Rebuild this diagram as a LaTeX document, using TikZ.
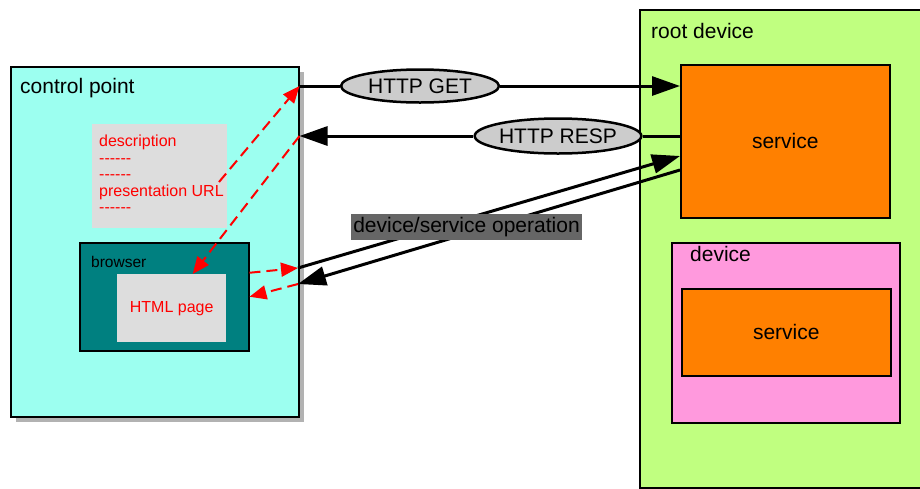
\documentclass[tikz,border=0pt]{standalone}
\usepackage{fontspec}
\setmainfont{Liberation Sans}
\usetikzlibrary{arrows.meta,shapes.geometric,shadows}
\definecolor{cpfill}{HTML}{9CFFF0}
\definecolor{rdfill}{HTML}{C0FF80}
\definecolor{devfill}{HTML}{FF99DD}
\definecolor{svcfill}{HTML}{FF8000}
\definecolor{brfill}{HTML}{008080}
\definecolor{pagefill}{HTML}{DDDDDD}
\definecolor{ellfill}{HTML}{CCCCCC}
\definecolor{labfill}{HTML}{666666}
\definecolor{redline}{HTML}{FF0000}
\newcommand{\hyph}{-{}-{}-{}-{}-{}-}
\begin{document}
\begin{tikzpicture}[x=1pt,y=-1pt,
  box/.style={draw=black,line width=1.5pt,anchor=north west,inner sep=0pt},
  paper/.style={fill=pagefill,anchor=north west,inner sep=0pt},
  bigtxt/.style={font=\fontsize{21}{25}\selectfont,inner sep=0pt},
  redtxt/.style={font=\fontsize{16}{16.5}\selectfont,text=redline,inner sep=0pt},
  msg/.style={ellipse,draw=black,line width=2.5pt,fill=ellfill,inner sep=0pt,
    font=\fontsize{21}{25}\selectfont},
  blk/.style={line width=3pt,draw=black},
  blkarrow/.style={blk,-{Triangle[length=28pt,width=19pt]}},
  redarrow/.style={draw=redline,line width=2pt,dash pattern=on 11pt off 6pt,
    -{Triangle[length=17pt,width=14pt]}}]
\useasboundingbox (0,0) rectangle (920,488);
\clip (0,0) rectangle (920,488);
% control point
\node[box,fill=cpfill,minimum width=288pt,minimum height=350pt,
  drop shadow={shadow xshift=5pt,shadow yshift=-5pt,fill=black!30,opacity=1}]
  (cp) at (10,66) {};
\node[bigtxt,anchor=west] (cptxt) at (20,88) {control point};
\node[paper,minimum width=135pt,minimum height=104pt] (desc) at (92,124) {};
\node[redtxt,anchor=west,align=left] (desctxt) at (99,174)
  {description\\\hyph\\\hyph\\presentation URL\\\hyph};
\node[box,fill=brfill,minimum width=169pt,minimum height=108pt] (browser) at (79,242) {};
\node[anchor=west,inner sep=0pt,font=\fontsize{15.5}{18}\selectfont] (brtxt) at (91,262) {browser};
\node[paper,minimum width=109pt,minimum height=68pt] (html) at (117,274) {};
\node[redtxt] (htmltxt) at (html.center) {HTML page};
% root device
\node[box,fill=rdfill,minimum width=284pt,minimum height=478pt] (rd) at (639,9) {};
\node[bigtxt,anchor=west] (rdtxt) at (651,31) {root device};
\node[box,fill=svcfill,minimum width=209pt,minimum height=153pt] (svc1) at (680,64) {};
\node[bigtxt] (svc1txt) at (svc1.center) {service};
\node[box,fill=devfill,minimum width=228pt,minimum height=180pt] (dev) at (671,242) {};
\node[bigtxt,anchor=west] (devtxt) at (690,254) {device};
\node[box,fill=svcfill,minimum width=209pt,minimum height=87pt] (svc2) at (681,288) {};
\node[bigtxt] (svc2txt) at (svc2.center) {service};
% message ellipses
\node[msg,minimum width=158pt,minimum height=33pt] (get) at (420,86) {HTTP GET};
\node[msg,minimum width=156pt,minimum height=35pt] (resp) at (558,136) {HTTP RESP};
% connector end points
\coordinate (opAs) at (298,268);
\coordinate (opAe) at (680,156);
\coordinate (opBs) at (680,170);
\coordinate (opBe) at (298,284);
\coordinate (descout) at (219,182);
% black connectors
\draw[blk] (cp.east |- get) -- (get.west);
\draw[blkarrow] (get.east) -- (svc1.west |- get);
\draw[blk] (svc1.west |- resp) -- (resp.east);
\draw[blkarrow] (resp.west) -- (cp.east |- resp);
\draw[blkarrow] (opAs) -- (opAe);
\draw[blkarrow] (opBs) -- (opBe);
\node[fill=labfill,inner sep=0pt,minimum width=231pt,minimum height=26pt,
  font=\fontsize{21}{25}\selectfont] (op) at (466.5,227) {device/service operation};
% red connectors
\draw[redarrow] (descout) -- (cp.east |- get);
\draw[redarrow] (cp.east |- resp) -- ([xshift=21pt]html.north);
\draw[redarrow] ([yshift=24pt]browser.east) -- (opAs);
\draw[redarrow] (opBe) -- (browser.east);
\end{tikzpicture}
\end{document}
